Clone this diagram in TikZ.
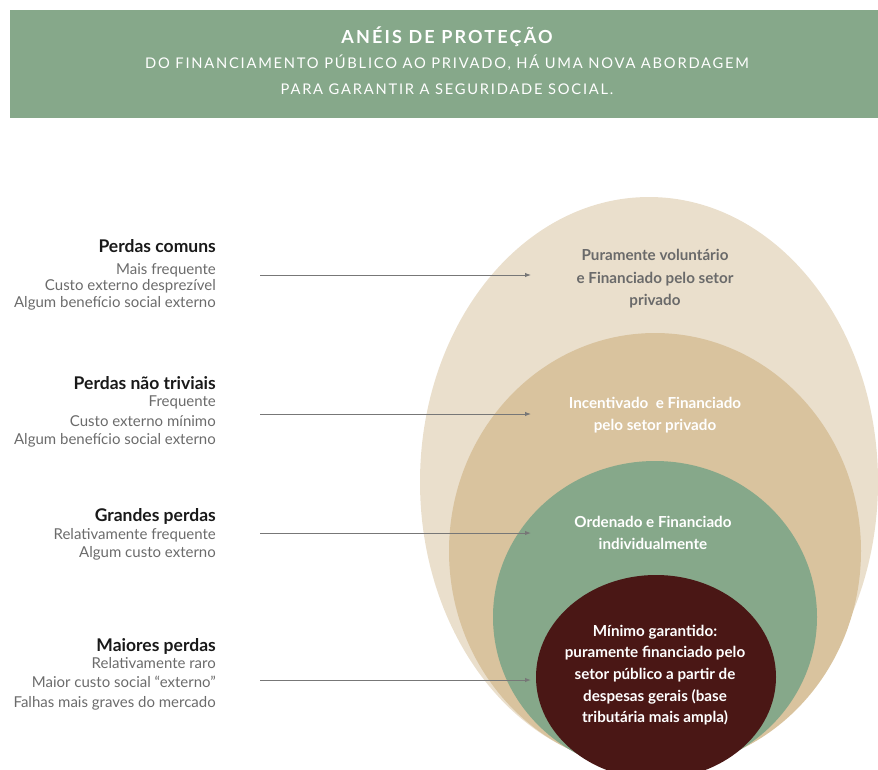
\documentclass[tikz,border=0pt]{standalone}
\usepackage{fontspec}
\setmainfont{Lato}
\newfontfamily\hdrfont[LetterSpace=12]{Lato}
\usetikzlibrary{arrows.meta}
\definecolor{hdrgreen}{HTML}{86A88A}
\definecolor{ringA}{HTML}{EADFCC}
\definecolor{ringB}{HTML}{D9C39E}
\definecolor{ringC}{HTML}{86A88A}
\definecolor{ringD}{HTML}{4A1715}
\definecolor{txtgray}{HTML}{6B6B6B}
\definecolor{outtxt}{HTML}{6A6A6A}
\definecolor{arrgray}{HTML}{777777}
\tikzset{
  ttl/.style={anchor=mid east, yshift=-3pt, inner sep=0pt, font=\fontsize{17.5}{20}\selectfont\bfseries, text=black!90},
  bdy/.style={anchor=mid east, yshift=-2.5pt, inner sep=0pt, font=\fontsize{15}{18}\selectfont, text=txtgray},
  rtxt/.style={anchor=mid, yshift=-2.5pt, inner sep=0pt, font=\fontsize{15.2}{18}\selectfont\bfseries},
  arr/.style={draw=arrgray, line width=1pt, -{Latex[length=6pt,width=4.5pt]}},
}
\begin{document}
\begin{tikzpicture}[x=1pt,y=-1pt]
\useasboundingbox (0,0) rectangle (878,769);
% header
\fill[hdrgreen] (10,10) rectangle (878,118);
\node[inner sep=0pt, text=white, font=\hdrfont\fontsize{18}{21}\selectfont\bfseries] (hdr) at (447,37) {ANÉIS DE PROTEÇÃO};
\node[inner sep=0pt, text=white, font=\hdrfont\fontsize{14.7}{17}\selectfont] (sub1) at (447,63) {DO FINANCIAMENTO PÚBLICO AO PRIVADO, HÁ UMA NOVA ABORDAGEM};
\node[inner sep=0pt, text=white, font=\hdrfont\fontsize{14.7}{17}\selectfont] (sub2) at (447,89) {PARA GARANTIR A SEGURIDADE SOCIAL.};
% rings
\begin{scope}
\clip (0,0) rectangle (878,769);
\fill[ringA] (649,482) ellipse [x radius=229pt, y radius=285pt];
\fill[ringB] (655,551) ellipse [x radius=206pt, y radius=218pt];
\fill[ringC] (655,617) ellipse [x radius=162pt, y radius=156pt];
\fill[ringD] (656,677) ellipse [x radius=120pt, y radius=102pt];
\end{scope}
% left labels
\node[ttl] (t1) at (216,247) {Perdas comuns};
\node[bdy] (b1a) at (216,269) {Mais frequente};
\node[bdy] (b1b) at (216,285) {Custo externo desprezível};
\node[bdy] (b1c) at (216,302) {Algum benefício social externo};
\node[ttl] (t2) at (216,384) {Perdas não triviais};
\node[bdy] (b2a) at (216,401) {Frequente};
\node[bdy] (b2b) at (216,421) {Custo externo mínimo};
\node[bdy] (b2c) at (216,439) {Algum benefício social externo};
\node[ttl] (t3) at (216,516) {Grandes perdas};
\node[bdy] (b3a) at (216,534) {Relativamente frequente};
\node[bdy] (b3b) at (216,552) {Algum custo externo};
\node[ttl] (t4) at (216,646) {Maiores perdas};
\node[bdy] (b4a) at (216,663) {Relativamente raro};
\node[bdy] (b4b) at (216,682) {Maior custo social “externo”};
\node[bdy] (b4c) at (216,702) {Falhas mais graves do mercado};
% ring texts
\node[rtxt, text=outtxt] (r1a) at (655,255) {Puramente voluntário};
\node[rtxt, text=outtxt] (r1b) at (655,278) {e Financiado pelo setor};
\node[rtxt, text=outtxt] (r1c) at (655,300) {privado};
\node[rtxt, text=white] (r2a) at (655,403) {Incentivado\ \ e Financiado};
\node[rtxt, text=white] (r2b) at (655,425) {pelo setor privado};
\node[rtxt, text=white] (r3a) at (653,522) {Ordenado e Financiado};
\node[rtxt, text=white] (r3b) at (653,544) {individualmente};
\node[rtxt, text=white] (r4a) at (655,631) {Mínimo garantido:};
\node[rtxt, text=white] (r4b) at (655,652) {puramente financiado pelo};
\node[rtxt, text=white] (r4c) at (655,674) {setor público a partir de};
\node[rtxt, text=white] (r4d) at (655,696) {despesas gerais (base};
\node[rtxt, text=white] (r4e) at (655,717) {tributária mais ampla)};
% arrows
\coordinate (s1) at (260,275); \coordinate (e1) at (531,275);
\coordinate (s2) at (260,414); \coordinate (e2) at (531,414);
\coordinate (s3) at (260,533); \coordinate (e3) at (531,533);
\coordinate (s4) at (260,680); \coordinate (e4) at (531,680);
\draw[arr] (s1) -- (e1);
\draw[arr] (s2) -- (e2);
\draw[arr] (s3) -- (e3);
\draw[arr] (s4) -- (e4);
\end{tikzpicture}
\end{document}
